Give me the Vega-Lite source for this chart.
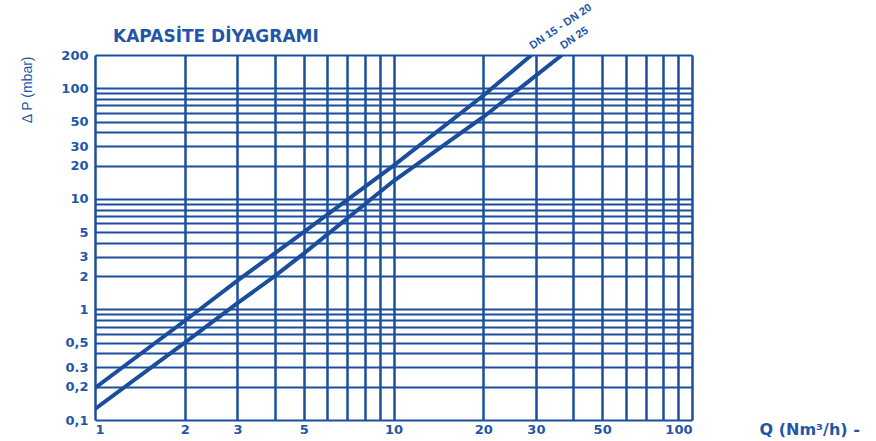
{
  "$schema": "https://vega.github.io/schema/vega-lite/v6.json",
  "width": 597,
  "height": 365,
  "autosize": {"type": "none"},
  "padding": {"left": 95, "top": 55, "right": 184, "bottom": 21},
  "background": "white",
  "title": {
    "text": "KAPASİTE DİYAGRAMI",
    "anchor": "start",
    "frame": "group",
    "dx": 18,
    "dy": 55,
    "offset": 11,
    "font": "DejaVu Sans",
    "fontSize": 17,
    "fontWeight": "bold",
    "color": "#1f57a8"
  },
  "config": {
    "view": {"stroke": null},
    "axis": {
      "labelFont": "DejaVu Sans",
      "labelFontWeight": "bold",
      "labelFontSize": 13,
      "labelColor": "#1f57a8",
      "titleColor": "#1f57a8",
      "titleFont": "DejaVu Sans",
      "titleFontWeight": "normal",
      "gridColor": "#1b4f9e",
      "gridOpacity": 1,
      "domain": false,
      "ticks": false,
      "labelOverlap": false,
      "labelBound": false
    }
  },
  "datasets": {
    "curves": [
      {"serie": "DN 15 - DN 20", "q": 1, "dp": 0.195},
      {"serie": "DN 15 - DN 20", "q": 2, "dp": 0.79},
      {"serie": "DN 15 - DN 20", "q": 3, "dp": 1.82},
      {"serie": "DN 15 - DN 20", "q": 5, "dp": 5.0},
      {"serie": "DN 15 - DN 20", "q": 10, "dp": 20},
      {"serie": "DN 15 - DN 20", "q": 20, "dp": 86},
      {"serie": "DN 15 - DN 20", "q": 29, "dp": 200},
      {"serie": "DN 25", "q": 1, "dp": 0.126},
      {"serie": "DN 25", "q": 2, "dp": 0.5},
      {"serie": "DN 25", "q": 3, "dp": 1.14},
      {"serie": "DN 25", "q": 4, "dp": 2.0},
      {"serie": "DN 25", "q": 5, "dp": 3.2},
      {"serie": "DN 25", "q": 10, "dp": 14.5},
      {"serie": "DN 25", "q": 20, "dp": 55},
      {"serie": "DN 25", "q": 36.7, "dp": 200}
    ],
    "labels": [
      {"label": "DN 15 - DN 20", "q": 29, "dp": 200},
      {"label": "DN 25", "q": 36.7, "dp": 200}
    ]
  },
  "layer": [
    {
      "data": {"name": "curves"},
      "mark": {"type": "line", "strokeWidth": 4, "color": "#1a4e9c", "clip": true},
      "encoding": {
        "x": {
          "field": "q", "type": "quantitative",
          "scale": {"type": "log", "domain": [1, 100], "nice": false},
          "axis": {
            "values": [1, 2, 3, 4, 5, 6, 7, 8, 9, 10, 20, 30, 40, 50, 60, 70, 80, 90, 100],
            "labelExpr": "indexof([1,2,3,5,10,20,30,50,100], datum.value) >= 0 ? '' + datum.value : ''",
            "gridWidth": 2.5,
            "labelPadding": 3,
            "title": "Q (Nm³/h) -",
            "titleX": 664,
            "titleY": 9,
            "titleAlign": "left",
            "titleBaseline": "middle",
            "titleFontSize": 16,
            "titleFontWeight": "bold"
          }
        },
        "y": {
          "field": "dp", "type": "quantitative",
          "scale": {"type": "log", "domain": [0.1, 200], "nice": false},
          "axis": {
            "values": [0.1, 0.2, 0.3, 0.4, 0.5, 0.6, 0.7, 0.8, 0.9, 1, 2, 3, 4, 5, 6, 7, 8, 9, 10, 20, 30, 40, 50, 60, 70, 80, 90, 100, 200],
            "labelExpr": "datum.value == 0.1 ? '0,1' : datum.value == 0.2 ? '0,2' : datum.value == 0.3 ? '0.3' : datum.value == 0.5 ? '0,5' : indexof([1,2,3,5,10,20,30,50,100,200], datum.value) >= 0 ? '' + datum.value : ''",
            "gridWidth": 1.8,
            "labelPadding": 7,
            "title": "Δ P (mbar)",
            "titleX": -68,
            "titleY": 1,
            "titleAngle": -90,
            "titleAlign": "right",
            "titleBaseline": "middle",
            "titleFont": "Liberation Sans",
            "titleFontSize": 14
          }
        },
        "detail": {"field": "serie", "type": "nominal"}
      }
    },
    {
      "data": {"name": "labels"},
      "mark": {
        "type": "text",
        "angle": -34,
        "align": "left",
        "baseline": "bottom",
        "dx": 4,
        "dy": -2,
        "font": "Liberation Sans",
        "fontSize": 11,
        "fontWeight": "bold",
        "color": "#1f57a8"
      },
      "encoding": {
        "x": {"field": "q", "type": "quantitative"},
        "y": {"field": "dp", "type": "quantitative"},
        "text": {"field": "label", "type": "nominal"}
      }
    }
  ]
}
